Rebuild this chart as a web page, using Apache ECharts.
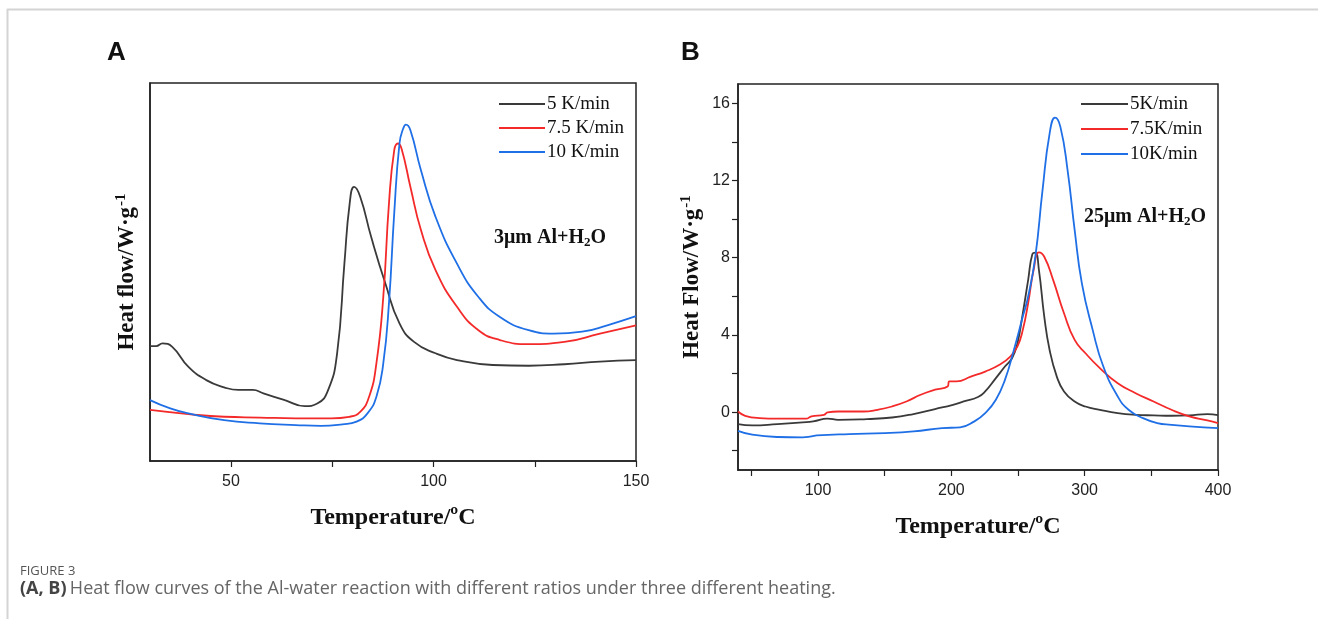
<!DOCTYPE html>
<html>
<head>
<meta charset="utf-8">
<script src="https://cdn.jsdelivr.net/npm/echarts@6/dist/echarts.min.js"></script>
<style>
html,body{margin:0;padding:0;background:#fff;}
#c{width:1318px;height:619px;}
</style>
</head>
<body>
<div id="c"></div>
<script>
// ---------- Panel A data (3 µm Al + H2O), arbitrary heat-flow units ----------
const a5 = [[30,3.04],[31.5,3.04],[33.1,3.11],[35.5,3.02],[39.5,2.49],[43.9,2.14],[48.3,1.95],[51.8,1.88],[55.4,1.88],[58,1.79],[63.3,1.61],[68.2,1.45],[71.3,1.52],[74,1.88],[76.2,2.85],[78,5.22],[79.3,6.81],[80.4,7.25],[81.9,6.99],[84.6,5.93],[88.1,4.70],[91.6,3.64],[95.2,3.15],[100.5,2.85],[105.8,2.67],[114.6,2.54],[123.5,2.52],[132.3,2.56],[141.1,2.63],[150,2.67]];
const a75 = [[30,1.35],[39.5,1.24],[48.3,1.17],[57.1,1.15],[66,1.13],[74.8,1.13],[79.2,1.17],[81.9,1.30],[84.1,1.70],[85.9,2.58],[87.6,4.34],[89,6.81],[90.3,8.22],[91.2,8.40],[92.1,8.27],[94.3,7.25],[96.9,6.11],[100.5,5.05],[105.8,4.08],[111.1,3.46],[116.4,3.20],[123.5,3.09],[132.3,3.15],[141.1,3.37],[150,3.59]];
const a10 = [[30,1.61],[35,1.39],[39.5,1.26],[48.3,1.08],[57.1,0.996],[66,0.95],[72.2,0.93],[77.5,0.97],[81,1.04],[83.7,1.26],[85.9,1.70],[87.6,2.58],[89,4.17],[90.3,6.55],[91.6,8.40],[92.5,8.79],[93.2,8.90],[94.3,8.75],[96.9,7.69],[100.5,6.46],[105.8,5.22],[111.1,4.34],[116.4,3.81],[123.5,3.46],[129.7,3.37],[136.7,3.42],[142.9,3.59],[150,3.83]];
const namesA = ['5 K/min','7.5 K/min','10 K/min'];
const xTicksA = [50,100,150];
const xMinorA = [50,75,100,125,150];

// ---------- Panel B data (25 µm Al + H2O), W/g ----------
const b5 = [[40,-0.62],[50.7,-0.69],[69.6,-0.62],[88.4,-0.53],[96.4,-0.48],[107.2,-0.34],[115.2,-0.40],[136.7,-0.36],[155.5,-0.28],[171.6,-0.10],[187.8,0.16],[201.2,0.38],[209.3,0.55],[220,0.78],[225.4,1.07],[233.4,1.76],[240.2,2.36],[245.5,2.79],[249.6,3.57],[253.6,5.12],[257.6,6.84],[260.8,8.19],[263,8.26],[265.7,7.36],[269.7,4.95],[273.7,3.22],[279.1,1.84],[284.5,1.07],[292.5,0.55],[300.6,0.29],[311.4,0.12],[324.8,-0.05],[338.2,-0.14],[351.7,-0.17],[365.1,-0.19],[378.5,-0.17],[392,-0.10],[400,-0.16]];
const b75 = [[40,0.03],[45.4,-0.19],[56.1,-0.31],[69.6,-0.34],[91,-0.34],[95.1,-0.22],[104.5,-0.14],[107.2,-0.02],[115.2,0.03],[134,0.03],[144.8,0.12],[155.5,0.29],[166.3,0.55],[177,0.90],[187.8,1.16],[197.2,1.33],[198.5,1.59],[203.9,1.59],[214.6,1.84],[225.4,2.10],[236.1,2.45],[244.2,2.88],[249.6,3.40],[253.6,4.26],[257.6,5.64],[261.7,7.36],[265.7,8.28],[269.7,8.05],[276.4,6.84],[284.5,5.12],[292.5,3.74],[300.6,3.05],[311.4,2.28],[324.8,1.50],[338.2,0.98],[351.7,0.55],[365.1,0.12],[378.5,-0.22],[392,-0.43],[400,-0.57]];
const b10 = [[40,-0.97],[50.7,-1.17],[69.6,-1.29],[88.4,-1.31],[95.1,-1.26],[99.1,-1.21],[123.3,-1.14],[150.2,-1.09],[171.6,-1.00],[193.1,-0.83],[206.6,-0.79],[217.3,-0.48],[225.4,-0.05],[233.4,0.64],[240.2,1.67],[246.9,3.22],[253.6,4.95],[257.6,5.98],[263,8.05],[268.4,11.5],[273.7,14.43],[277.8,15.26],[281.8,14.78],[287.2,12.53],[292.5,9.43],[297.9,6.67],[306,4.26],[314,2.36],[324.8,0.81],[332.9,0.12],[343.6,-0.31],[354.4,-0.57],[365.1,-0.66],[378.5,-0.74],[400,-0.83]];
const namesB = ['5K/min','7.5K/min','10K/min'];
const xTicksB = [100,200,300,400];
const xMinorB = [50,100,150,200,250,300,350,400];
const yTicksB = [0,4,8,12,16];
const yMinorB = [-2,0,2,4,6,8,10,12,14,16];

const colors = ['#3a3a3a','#f42a2a','#1f6fe6'];
const serif = '"Liberation Serif","Times New Roman",serif';
const sans = '"Liberation Sans",Arial,sans-serif';

const chart = echarts.init(document.getElementById('c'), null, {renderer:'canvas'});

function mkSeries(name, data, color, xi, yi){
  return {name, type:'line', data, xAxisIndex:xi, yAxisIndex:yi, symbol:'none', smooth:0.5,
    lineStyle:{color, width:1.8}, itemStyle:{color}, animation:false, z:3};
}

const yNameRich = {
  t:{fontFamily:serif, fontWeight:'bold', fontSize:23, color:'#111'},
  sup:{fontFamily:serif, fontWeight:'bold', fontSize:15, color:'#111', padding:[0,0,12,1]}
};
const annRich = {
  t:{fontFamily:serif, fontWeight:'bold', fontSize:20, fill:'#111'},
  s:{fontFamily:serif, fontWeight:'bold', fontSize:13, fill:'#111', padding:[9,0,0,0]}
};

const option = {
  animation:false,
  backgroundColor:'#fff',
  grid:[
    {left:150, top:83, width:486, height:378, show:true, borderColor:'#222', borderWidth:1.5, backgroundColor:'transparent'},
    {left:738, top:84, width:480, height:386, show:true, borderColor:'#222', borderWidth:1.5, backgroundColor:'transparent'}
  ],
  xAxis:[
    {type:'value', gridIndex:0, min:30, max:150,
      axisLine:{show:true, onZero:false, lineStyle:{color:'#222', width:1.5}},
      axisTick:{show:true, inside:false, length:6, customValues:xMinorA, lineStyle:{color:'#222', width:1.2}},
      axisLabel:{customValues:xTicksA, color:'#222', fontFamily:sans, fontSize:16, margin:13},
      splitLine:{show:false},
      name:'Temperature/ºC', nameLocation:'middle', nameGap:45,
      nameTextStyle:{fontFamily:serif, fontWeight:'bold', fontSize:24, color:'#111'}},
    {type:'value', gridIndex:1, min:40, max:400,
      axisLine:{show:true, onZero:false, lineStyle:{color:'#222', width:1.5}},
      axisTick:{show:true, inside:false, length:6, customValues:xMinorB, lineStyle:{color:'#222', width:1.2}},
      axisLabel:{customValues:xTicksB, color:'#222', fontFamily:sans, fontSize:16, margin:13},
      splitLine:{show:false},
      name:'Temperature/ºC', nameLocation:'middle', nameGap:45,
      nameTextStyle:{fontFamily:serif, fontWeight:'bold', fontSize:24, color:'#111'}}
  ],
  yAxis:[
    {type:'value', gridIndex:0, min:0, max:10,
      axisLine:{show:true, onZero:false, lineStyle:{color:'#222', width:1.5}},
      axisTick:{show:false}, axisLabel:{show:false}, splitLine:{show:false},
      name:'{t|Heat flow/W·g}{sup|-1}', nameLocation:'middle', nameGap:9,
      nameTextStyle:{rich:yNameRich}},
    {type:'value', gridIndex:1, min:-3, max:17,
      axisLine:{show:true, onZero:false, lineStyle:{color:'#222', width:1.5}},
      axisTick:{show:true, inside:false, length:6, customValues:yMinorB, lineStyle:{color:'#222', width:1.2}},
      axisLabel:{customValues:yTicksB, color:'#222', fontFamily:sans, fontSize:16, margin:8},
      splitLine:{show:false},
      name:'{t|Heat Flow/W·g}{sup|-1}', nameLocation:'middle', nameGap:32,
      nameTextStyle:{rich:yNameRich}}
  ],
  legend:[
    {data:namesA, orient:'vertical', left:494, top:88, icon:'rect', itemWidth:46, itemHeight:2, itemGap:2,
      textStyle:{fontFamily:serif, fontSize:19, color:'#111', padding:[0,0,0,-3], lineHeight:22}, selectedMode:false},
    {data:namesB, orient:'vertical', left:1076, top:88, icon:'rect', itemWidth:47, itemHeight:2, itemGap:3,
      textStyle:{fontFamily:serif, fontSize:19, color:'#111', padding:[0,0,0,-3], lineHeight:22}, selectedMode:false}
  ],
  series:[
    mkSeries(namesA[0], a5, colors[0], 0, 0),
    mkSeries(namesA[1], a75, colors[1], 0, 0),
    mkSeries(namesA[2], a10, colors[2], 0, 0),
    mkSeries(namesB[0], b5, colors[0], 1, 1),
    mkSeries(namesB[1], b75, colors[1], 1, 1),
    mkSeries(namesB[2], b10, colors[2], 1, 1)
  ],
  graphic:[
    {type:'line', shape:{x1:7, y1:9.5, x2:1318, y2:9.5}, style:{stroke:'#d4d4d4', lineWidth:2}, silent:true},
    {type:'line', shape:{x1:7.5, y1:9, x2:7.5, y2:619}, style:{stroke:'#d4d4d4', lineWidth:2}, silent:true},
    {type:'text', left:107, top:40, style:{text:'A', font:'bold 26px '+sans, fill:'#111'}},
    {type:'text', left:681, top:40, style:{text:'B', font:'bold 26px '+sans, fill:'#111'}},
    {type:'text', x:550, y:238, style:{text:'{t|3μm Al+H}{s|2}{t|O}', align:'center', verticalAlign:'middle', rich:annRich}},
    {type:'text', x:1145, y:217, style:{text:'{t|25μm Al+H}{s|2}{t|O}', align:'center', verticalAlign:'middle', rich:annRich}},
    {type:'text', left:20, top:565, style:{text:'FIGURE 3', font:'13px "Open Sans",sans-serif', fill:'#555'}},
    {type:'text', left:20, top:580, style:{text:'{b|(A, B)} {r|Heat flow curves of the Al-water reaction with different ratios under three different heating.}',
      rich:{b:{fontFamily:'"Open Sans",sans-serif', fontWeight:'bold', fontSize:18, fill:'#444'}, r:{fontFamily:'"Open Sans",sans-serif', fontSize:18, fill:'#666'}}}}
  ]
};
chart.setOption(option);
</script>
</body>
</html>
